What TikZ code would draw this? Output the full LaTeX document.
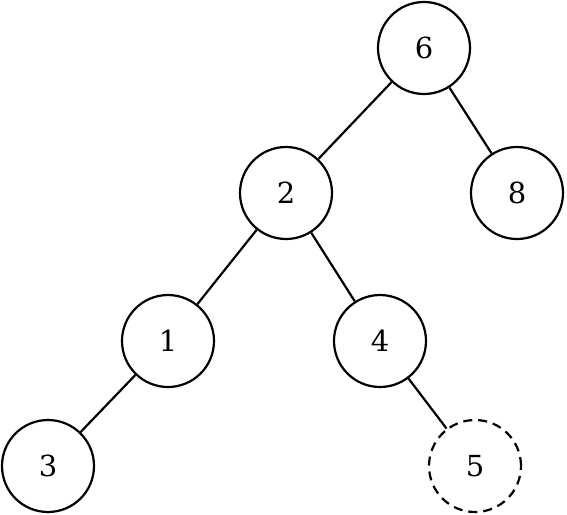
\documentclass[tikz,border=0pt]{standalone}
\usepackage{fontspec}
\newfontfamily\digitfont{DejaVu Serif}
\begin{document}
\begin{tikzpicture}[x=1pt,y=-1pt,
  vtx/.style={circle,draw,line width=2.2pt,minimum size=92pt,inner sep=0pt,font=\digitfont\fontsize{29}{34}\selectfont},
  ghost/.style={vtx,dash pattern=on 9pt off 6pt},
  edge/.style={line width=2.2pt}]
\useasboundingbox (0,0) rectangle (567,514);
\node[vtx] (n6) at (424,48) {6};
\node[vtx] (n2) at (286,193) {2};
\node[vtx] (n8) at (517,193) {8};
\node[vtx] (n1) at (168,341) {1};
\node[vtx] (n4) at (380,341) {4};
\node[vtx] (n3) at (48,466) {3};
\node[ghost] (n5) at (475,466) {5};
\draw[edge] (n6) -- (n2);
\draw[edge] (n6) -- (n8);
\draw[edge] (n2) -- (n1);
\draw[edge] (n2) -- (n4);
\draw[edge] (n1) -- (n3);
\draw[edge] (n4) -- (n5);
\end{tikzpicture}
\end{document}
